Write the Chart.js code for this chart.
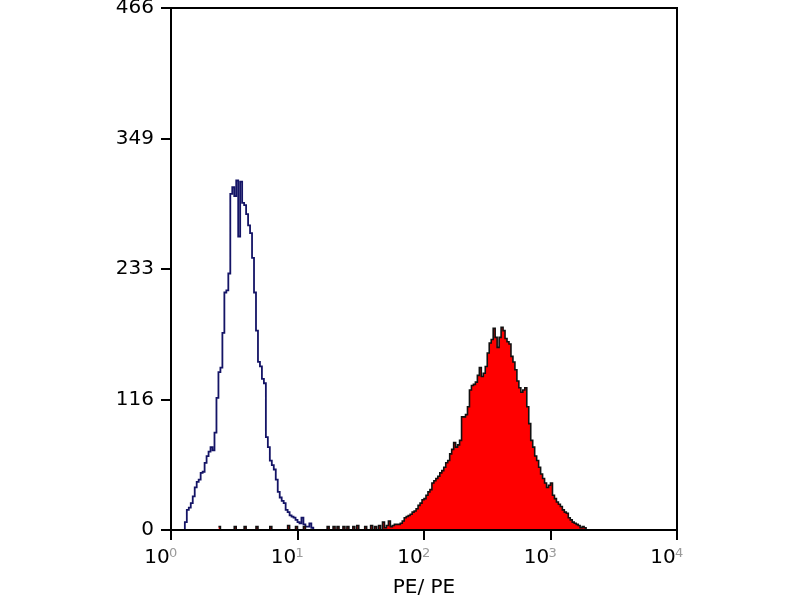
<!DOCTYPE html>
<html>
<head>
<meta charset="utf-8">
<script src="https://cdn.jsdelivr.net/npm/chart.js@4.4.1/dist/chart.umd.min.js"></script>
<style>
  html, body { margin: 0; padding: 0; background: #fff; }
  #wrap { width: 800px; height: 600px; }
</style>
</head>
<body>
<div id="wrap"><canvas id="histo" width="800" height="600"></canvas></div>
<script>
// histogram: 256 channels over 4 log decades (64 channels per decade)
const channelsPerDecade = 64;
const decadeExponents = ['0', '1', '2', '3', '4'];
const yTickValues = [0, 116, 233, 349, 466];
const axisTitle = 'PE/ PE';

// isotype control (open blue outline), counts from channel 6 on
const controlFirstChannel = 6;
const controlCounts = [
  0, 7, 18, 20, 24, 30, 38, 43, 45, 51, 52, 60, 66, 70, 74, 71,
  87, 118, 141, 145, 176, 212, 214, 229, 300, 306, 298, 312, 262, 311, 292, 290,
  282, 272, 265, 243, 212, 178, 150, 146, 135, 131, 83, 74, 62, 58, 54, 45,
  34, 29, 26, 24, 18, 16, 13, 12, 11, 9, 7, 6, 11, 5, 3, 3,
  6, 2, 0
];

// stained sample (filled red), counts from channel 24 on
const stainedFirstChannel = 24;
const stainedCounts = [
  3, 0, 0, 0, 0, 0, 0, 0, 3, 0, 0, 0, 0, 3, 0, 0,
  0, 0, 0, 3, 0, 0, 0, 0, 0, 0, 3, 0, 0, 0, 0, 0,
  0, 0, 0, 4, 0, 0, 0, 3, 0, 0, 0, 3, 0, 0, 0, 0,
  0, 0, 0, 0, 0, 0, 0, 3, 0, 0, 3, 0, 3, 0, 0, 3,
  0, 3, 0, 0, 3, 0, 4, 0, 0, 0, 3, 0, 0, 4, 0, 3,
  0, 4, 0, 7, 2, 4, 8, 3, 4, 5, 5,
  5, 6, 8, 11, 12, 13, 14, 16, 17, 19, 22, 24, 27, 28, 31, 34,
  36, 42, 44, 46, 48, 51, 53, 56, 60, 62, 68, 72, 78, 74, 76, 80,
  101, 101, 103, 110, 125, 129, 130, 132, 138, 145, 137, 140, 146, 158, 167, 170,
  180, 172, 163, 172, 181, 178, 171, 168, 166, 155, 150, 143, 133, 127, 123, 125,
  127, 110, 95, 80, 74, 66, 62, 56, 50, 46, 42, 38, 40, 42, 31, 28,
  25, 23, 21, 18, 16, 15, 11, 9, 7, 6, 5, 4, 2, 3, 2, 0
];

const FONT = '"DejaVu Sans", Verdana, sans-serif';

function toPoints(first, counts) {
  const pts = counts.map((c, i) => ({ x: first + i, y: c }));
  pts.push({ x: first + counts.length, y: 0 });
  return pts;
}

// box around the plot
const framePlugin = {
  id: 'frame',
  afterDatasetsDraw(chart) {
    const { ctx, chartArea: a } = chart;
    ctx.save();
    ctx.strokeStyle = '#000';
    ctx.lineWidth = 2;
    ctx.strokeRect(a.left, a.top, a.right - a.left, a.bottom - a.top);
    ctx.restore();
  }
};

// small grey exponents next to the "10" tick labels
const exponentPlugin = {
  id: 'exponents',
  afterDraw(chart) {
    const sx = chart.scales.x;
    const ctx = chart.ctx;
    ctx.save();
    ctx.fillStyle = '#9a9a9a';
    ctx.font = '13px ' + FONT;
    ctx.textAlign = 'left';
    ctx.textBaseline = 'top';
    sx.ticks.forEach(t => {
      const px = sx.getPixelForValue(t.value);
      ctx.fillText(decadeExponents[Math.round(t.value / channelsPerDecade)], px - 2, sx.top + 17);
    });
    ctx.restore();
  }
};

new Chart(document.getElementById('histo'), {
  type: 'line',
  data: {
    datasets: [
      {
        label: 'stained',
        data: toPoints(stainedFirstChannel, stainedCounts),
        stepped: true,
        fill: 'origin',
        backgroundColor: '#ff0000',
        borderColor: '#111',
        borderWidth: 1.6,
        pointRadius: 0
      },
      {
        label: 'control',
        data: toPoints(controlFirstChannel, controlCounts),
        stepped: true,
        fill: false,
        borderColor: '#141466',
        borderWidth: 1.8,
        pointRadius: 0
      }
    ]
  },
  options: {
    responsive: false,
    animation: false,
    layout: { padding: { top: 8, right: 123, bottom: 0, left: 0 } },
    plugins: { legend: { display: false }, tooltip: { enabled: false } },
    scales: {
      x: {
        type: 'linear',
        min: 0,
        max: channelsPerDecade * 4,
        ticks: {
          stepSize: channelsPerDecade,
          callback: () => '10',
          labelOffset: -14,
          padding: 6,
          color: '#000',
          maxRotation: 0,
          autoSkip: false,
          font: { family: FONT, size: 20 }
        },
        grid: { drawOnChartArea: false, drawTicks: true, tickLength: 10, color: '#000', lineWidth: 2 },
        border: { display: false },
        title: {
          display: true,
          text: axisTitle,
          color: '#000',
          font: { family: FONT, size: 20 },
          padding: { top: 0, bottom: 0 }
        },
        afterFit: s => { s.height = 70; }
      },
      y: {
        min: 0,
        max: yTickValues[yTickValues.length - 1],
        afterBuildTicks: s => { s.ticks = yTickValues.map(v => ({ value: v })); },
        ticks: {
          padding: 7,
          color: '#000',
          font: { family: FONT, size: 20, lineHeight: 0.1 }
        },
        grid: { drawOnChartArea: false, drawTicks: true, tickLength: 10, color: '#000', lineWidth: 2 },
        border: { display: false },
        afterFit: s => { s.width = 171; }
      }
    }
  },
  plugins: [framePlugin, exponentPlugin]
});
</script>
</body>
</html>
